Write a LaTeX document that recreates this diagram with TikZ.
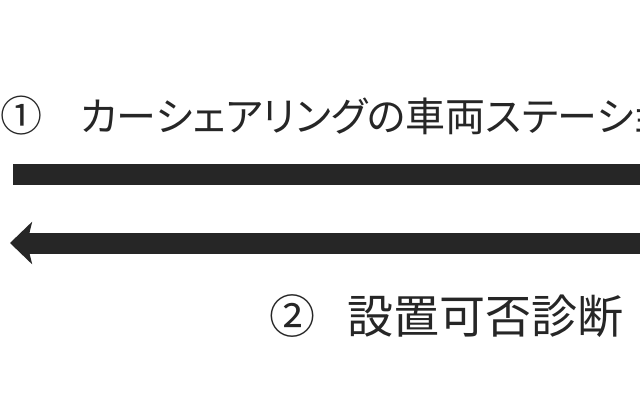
\documentclass[tikz,border=0pt]{standalone}
\usepackage{fontspec}
\newfontfamily\jpfont{Noto Sans CJK JP}
\newfontfamily\jpprop[RawFeature=+palt]{Noto Sans CJK JP}
\usetikzlibrary{arrows.meta}
\definecolor{barcol}{HTML}{262626}
\tikzset{
  label/.style={anchor=west,inner sep=0pt,text=barcol,font=\jpfont\fontsize{42pt}{46pt}\selectfont},
  bar/.style={barcol,line width=21pt},
}
\begin{document}
\begin{tikzpicture}[x=1pt,y=-1pt]
                \useasboundingbox[fill=white] (0,0) rectangle (640,400);
                %% labels
                \node[label] (step1) at (0,116) {①\hspace{0.9em}{\jpprop\fontsize{40pt}{44pt}\selectfont カーシェアリングの車両ステーション}};
                \node[label,font=\jpfont\fontsize{46pt}{50pt}\selectfont] (step2) at (269,316) {②\hspace{0.7em}設置可否診断};
                %% bar
                \coordinate (barL) at (13,174);
                \coordinate (barR) at (660,174);
                \draw[bar] (barL) -- (barR);
                %% return arrow
                \coordinate (arrL) at (10,243);
                \coordinate (arrR) at (660,243);
                \draw[bar,-{Stealth[length=22pt,width=42pt,inset=5pt]}] (arrR) -- (arrL);
            \end{tikzpicture}
\end{document}
